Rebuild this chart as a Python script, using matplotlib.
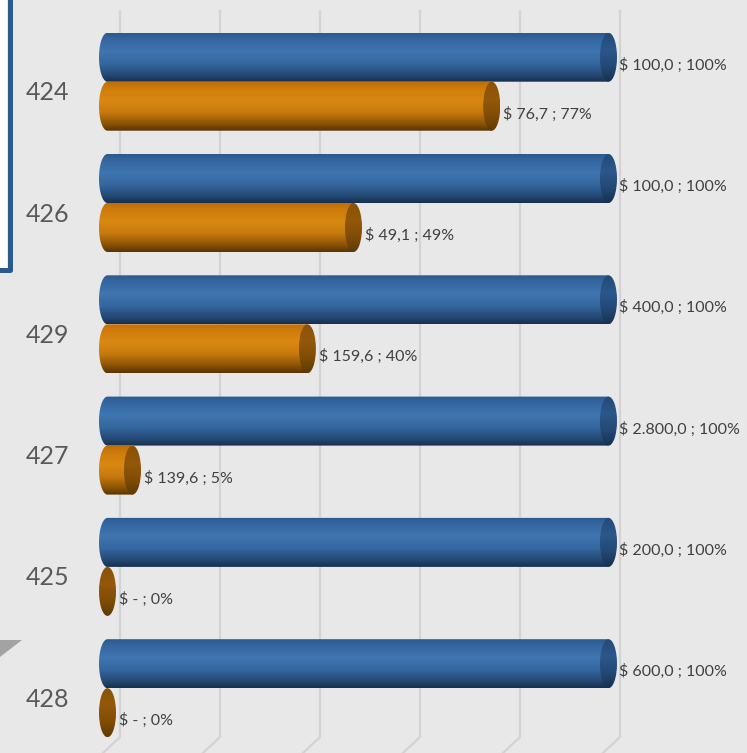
import numpy as np
import matplotlib
matplotlib.use("Agg")
import matplotlib.pyplot as plt
from matplotlib.colors import LinearSegmentedColormap
from matplotlib.patches import Polygon, Ellipse
from matplotlib.lines import Line2D

# ---------------- data ----------------
categories = ["424", "426", "429", "427", "425", "428"]
budget = [100.0, 100.0, 400.0, 2800.0, 200.0, 600.0]
spent = [76.7, 49.1, 159.6, 139.6, 0.0, 0.0]
budget_pct = [100, 100, 100, 100, 100, 100]
grid_ticks = [0, 20, 40, 60, 80, 100]

spent_pct = [100.0 * s / b for s, b in zip(spent, budget)]

# ---------------- styling ----------------
W, H, DPI = 747, 753, 100
BG = "#e8e8e8"
plt.rcParams["font.family"] = ["Lato", "DejaVu Sans"]

fig = plt.figure(figsize=(W / DPI, H / DPI), dpi=DPI, facecolor=BG)
ax = fig.add_axes([0, 0, 1, 1])
ax.set_facecolor(BG)
ax.set_axis_off()

# pixel geometry of the plotting area
PX0, PX_PER = 107.5, 5.01        # x pixel of 0 %, pixels per %
PY0, PY_STEP = 81.7, 121.3       # y pixel of first category centre, spacing
xlim = ((0 - PX0) / PX_PER, (W - PX0) / PX_PER)
ylim = ((H - PY0) / PY_STEP, (0 - PY0) / PY_STEP)

BAR_H = 49.0 / PY_STEP           # bar thickness (category units)
A = 8.5 / PX_PER                 # horizontal semi-axis of cylinder ends
B = BAR_H / 2

blue_body = LinearSegmentedColormap.from_list(
    "bb", [(0, "#2c5a8e"), (0.12, "#3465a0"), (0.38, "#3f76b1"),
           (0.62, "#35679f"), (0.85, "#254a76"), (1, "#172f4e")])
blue_cap = LinearSegmentedColormap.from_list(
    "bc", [(0, "#234a78"), (0.35, "#2b578a"), (0.7, "#234874"), (1, "#16304f")])
orange_body = LinearSegmentedColormap.from_list(
    "ob", [(0, "#c06e06"), (0.12, "#cd7a0b"), (0.38, "#d98912"),
           (0.62, "#c77a0e"), (0.85, "#8c5306"), (1, "#583503")])
orange_cap = LinearSegmentedColormap.from_list(
    "oc", [(0, "#8a5206"), (0.35, "#94580a"), (0.7, "#7f4c05"), (1, "#5e3a04")])
grad = np.linspace(0, 1, 256)[:, None]


def cylinder(value, yc, body_cmap, cap_cmap):
    x0, x1 = 0.0, value
    yt, yb = yc - B, yc + B
    th = np.linspace(np.pi / 2, 3 * np.pi / 2, 60)
    ell = np.column_stack([x0 + A * np.cos(th), yc + B * np.sin(th)])
    pts = np.vstack([[x0, yt], [x1, yt], [x1, yb], ell])
    body = Polygon(pts, closed=True, facecolor="none", edgecolor="none")
    ax.add_patch(body)
    if x1 > x0:
        im = ax.imshow(grad, cmap=body_cmap, extent=[x0 - A, x1 + A, yb, yt],
                       aspect="auto", origin="upper", zorder=2, interpolation="bilinear")
        im.set_clip_path(body)
    cap = Ellipse((x1, yc), 2 * A, 2 * B, facecolor="none", edgecolor="none")
    ax.add_patch(cap)
    im2 = ax.imshow(grad, cmap=cap_cmap, extent=[x1 - A, x1 + A, yb, yt],
                    aspect="auto", origin="upper", zorder=3, interpolation="bilinear")
    im2.set_clip_path(cap)


def money(v):
    if v == 0:
        return "$ -"
    s = f"{v:,.1f}"
    s = s.replace(",", "X").replace(".", ",").replace("X", ".")
    return "$ " + s


for i, cat in enumerate(categories):
    yb_c = i - B          # blue bar centre
    yo_c = i + B          # orange bar centre
    cylinder(budget_pct[i], yb_c, blue_body, blue_cap)
    cylinder(spent_pct[i], yo_c, orange_body, orange_cap)
    ax.annotate(f"{money(budget[i])} ; {budget_pct[i]:.0f}%", (budget_pct[i], yb_c),
                xytext=(A * PX_PER + 2, -8), textcoords="offset pixels",
                ha="left", va="center", fontsize=11.5, color="#404040", zorder=5)
    ax.annotate(f"{money(spent[i])} ; {spent_pct[i]:.0f}%", (spent_pct[i], yo_c),
                xytext=(A * PX_PER + 3, -8), textcoords="offset pixels",
                ha="left", va="center", fontsize=11.5, color="#404040", zorder=5)
    ax.text((69 - PX0) / PX_PER, i + 11 / PY_STEP, cat, ha="right", va="center",
            fontsize=18, color="#595959", zorder=5)

ax.set_xlim(*xlim)
ax.set_ylim(*ylim)

# back-wall gridlines (drawn in figure pixels)
for t in grid_ticks:
    px = PX0 + t * PX_PER * 0.998 + 12.5
    xs = [px, px, px - 17]
    ys = [11, 737, 753]
    fig.add_artist(Line2D([x / W for x in xs], [1 - y / H for y in ys],
                          transform=fig.transFigure, color="#d3d3d3", lw=1.6, zorder=0))
ax.set_zorder(1)
ax.patch.set_alpha(0)

# decorative frame at the upper left and grey triangle
fig.add_artist(Polygon([(0, 1), (7 / W, 1), (7 / W, 1 - 268 / H), (0, 1 - 268 / H)],
                       closed=True, transform=fig.transFigure, facecolor="white",
                       edgecolor="none", zorder=0.5))
fig.add_artist(Line2D([9.5 / W, 9.5 / W, 0], [1, 1 - 270 / H, 1 - 270 / H],
                      transform=fig.transFigure, color="#2b5a8c", lw=3.6, zorder=0.6))
fig.add_artist(Polygon([(0, 1 - 640 / H), (22 / W, 1 - 640 / H), (0, 1 - 657 / H)],
                       closed=True, transform=fig.transFigure, facecolor="#a3a3a3",
                       edgecolor="none", zorder=0.5))

fig.savefig("out.png", dpi=DPI, facecolor=BG)
